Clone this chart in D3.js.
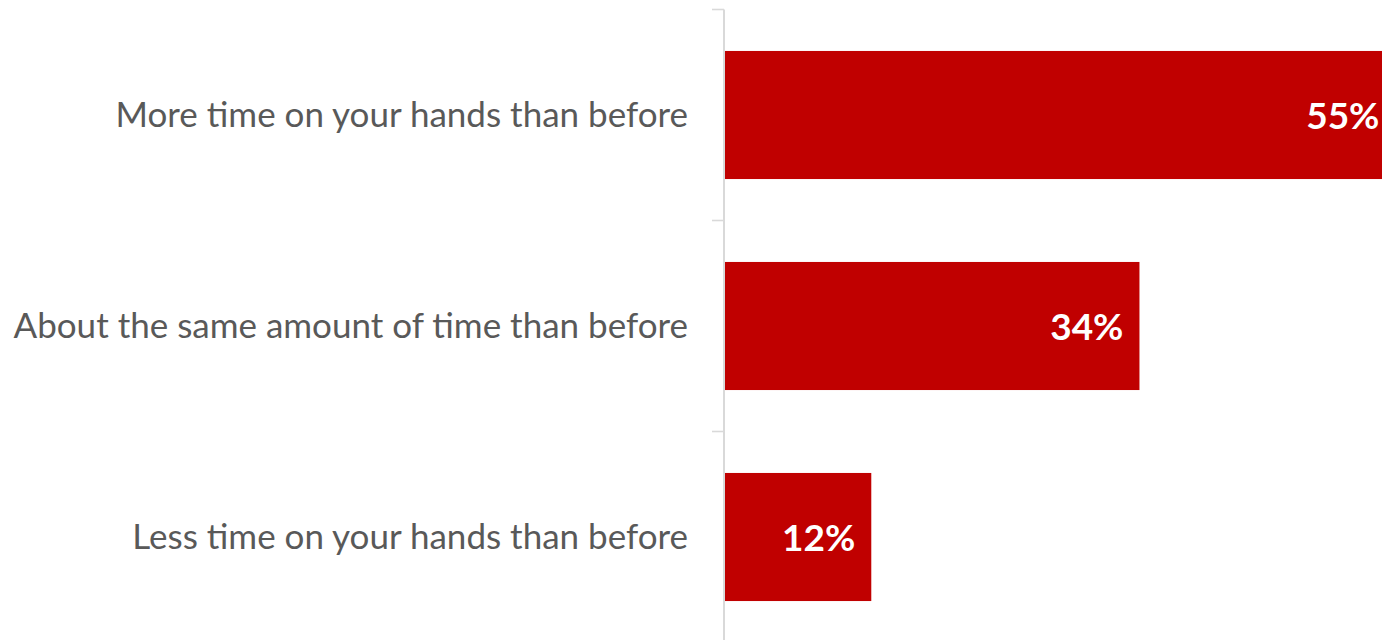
<!DOCTYPE html>
<html>
<head>
<meta charset="utf-8">
<script src="https://cdn.jsdelivr.net/npm/d3@7"></script>
<style>
  html, body { margin: 0; padding: 0; background: #ffffff; overflow: hidden; }
  svg { display: block; }
</style>
</head>
<body>
<script>
// Survey answers, top to bottom
const categories = [
  "More time on your hands than before",
  "About the same amount of time than before",
  "Less time on your hands than before"
];
const shares = [0.55, 0.34, 0.12];
const valueLabels = ["55%", "34%", "12%"];

const W = 1382, H = 640;
const svg = d3.select("body").append("svg")
  .attr("width", W).attr("height", H);

// Horizontal value axis: plot area continues past the right edge
const x = d3.scaleLinear().domain([0, 0.60]).range([725, 1456.4]);

// Category bands; gap between bars split evenly at the ends
const gap = 0.393;
const y = d3.scaleBand().domain(categories)
  .range([9.5, 642.5]).paddingInner(gap).paddingOuter(gap / 2);

const data = categories.map((c, i) => ({ cat: c, v: shares[i], label: valueLabels[i] }));

// Bars
svg.append("g").selectAll("rect").data(data).join("rect")
  .attr("x", x(0))
  .attr("y", d => y(d.cat))
  .attr("width", d => x(d.v) - x(0))
  .attr("height", y.bandwidth())
  .attr("fill", "#C00000");

// Category axis line and tick marks on band boundaries
const step = y.step();
const boundaries = categories.map(c => y(c) - step * gap / 2)
  .concat([y(categories[categories.length - 1]) - step * gap / 2 + step]);
const axisX = x(0) - 1;
svg.append("line")
  .attr("x1", axisX).attr("x2", axisX)
  .attr("y1", boundaries[0]).attr("y2", boundaries[boundaries.length - 1])
  .attr("stroke", "#D9D9D9").attr("stroke-width", 2);
svg.append("g").selectAll("line").data(boundaries).join("line")
  .attr("x1", axisX - 12).attr("x2", axisX)
  .attr("y1", d => d).attr("y2", d => d)
  .attr("stroke", "#D9D9D9").attr("stroke-width", 1.6);

// Category labels
svg.append("g").selectAll("text").data(data).join("text")
  .attr("x", 688)
  .attr("y", d => y(d.cat) + y.bandwidth() / 2)
  .attr("dy", "0.34em")
  .attr("text-anchor", "end")
  .attr("font-family", "Lato, 'Open Sans', sans-serif")
  .attr("font-size", 35)
  .attr("fill", "#595959")
  .text(d => d.cat);

// Value labels inside bar ends
svg.append("g").selectAll("text").data(data).join("text")
  .attr("x", d => x(d.v) - 16)
  .attr("y", d => y(d.cat) + y.bandwidth() / 2)
  .attr("dy", "0.38em")
  .attr("text-anchor", "end")
  .attr("font-family", "Lato, 'Open Sans', sans-serif")
  .attr("font-weight", "bold")
  .attr("font-size", 37)
  .attr("fill", "#FFFFFF")
  .text(d => d.label);
</script>
</body>
</html>
